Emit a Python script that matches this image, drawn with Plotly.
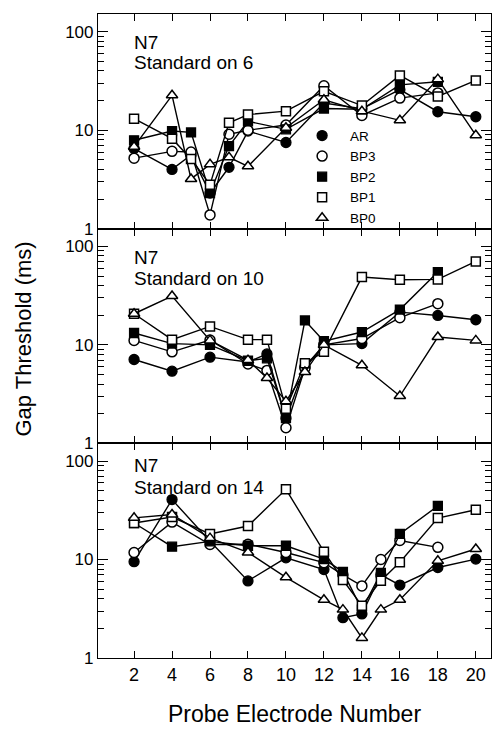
import plotly.graph_objects as go
from plotly.subplots import make_subplots

series_names = ["AR", "BP3", "BP2", "BP1", "BP0"]

x_std6 = [2, 4, 5, 6, 7, 8, 10, 12, 14, 16, 18, 20]
std6_AR = [6.5, 4.0, 5.6, 2.3, 4.2, 9.8, 7.5, 18.9, 16.5, 25.8, 15.4, 13.7]
std6_BP3 = [5.2, 6.1, 6.0, 1.38, 9.1, 10.0, 11.3, 28.3, 14.1, 21.2, 23.9, None]
std6_BP2 = [7.9, 9.8, 9.5, 2.3, 6.9, 12.3, 10.2, 16.6, 16.3, 28.9, 31, None]
std6_BP1 = [13.1, 8.2, 5.1, 2.8, 11.9, 14.4, 15.6, 24.8, 17.8, 36, 22, 32]
std6_BP0 = [6.8, 22.6, 3.2, 4.5, 5.3, 4.3, 10.6, 20.4, 15.6, 12.6, 33, 8.9]

x_std10 = [2, 4, 6, 8, 9, 10, 11, 12, 14, 16, 18, 20]
std10_AR = [7.1, 5.4, 7.5, 6.7, 8.1, 1.8, 6.0, 10.0, 10.3, 21.5, 19.9, 18.0]
std10_BP3 = [11.1, 8.5, 11.2, 6.4, 5.5, 1.44, 5.8, 10.0, 11.6, 18.9, 26.2, None]
std10_BP2 = [13.2, 10.3, 10.0, 6.9, 7.3, 1.8, 17.7, 10.9, 13.5, 22.8, 54.8, None]
std10_BP1 = [20.7, 11.3, 15.4, 11.3, 11.3, 2.25, 6.5, 8.5, 48.8, 45.8, 46.2, 70.4]
std10_BP0 = [20.7, 31.3, 11.1, 7.0, 4.6, 2.67, 5.3, 10.0, 6.2, 3.02, 12.0, 11.1]

x_std14 = [2, 4, 6, 8, 10, 12, 13, 14, 15, 16, 18, 20]
std14_AR = [9.5, 40.6, 15.3, 6.07, 10.4, 7.9, 2.57, 2.8, 7.0, 5.5, 8.3, 10.1]
std14_BP3 = [11.8, 24.0, 14.2, 14.3, 11.8, 9.3, 7.0, 5.4, 10.0, 15.6, 13.3, None]
std14_BP2 = [23.5, 13.5, 15.3, 13.8, 13.8, 10.1, 7.5, 3.1, 7.3, 18.2, 35, None]
std14_BP1 = [23.5, 27, 18.2, 21.9, 51.7, 12.0, 6.2, 3.4, 6.1, 9.4, 26.4, 32]
std14_BP0 = [26.5, 28.7, 16.5, 11.8, 6.6, 3.9, 3.1, 1.6, 3.1, 3.9, 9.7, 12.8]

panel_subject = "N7"
panel_standard = ["Standard on 6", "Standard on 10", "Standard on 14"]
x_ticks = [2, 4, 6, 8, 10, 12, 14, 16, 18, 20]

panels = [
    (x_std6, [std6_AR, std6_BP3, std6_BP2, std6_BP1, std6_BP0]),
    (x_std10, [std10_AR, std10_BP3, std10_BP2, std10_BP1, std10_BP0]),
    (x_std14, [std14_AR, std14_BP3, std14_BP2, std14_BP1, std14_BP0]),
]

marker_styles = {
    "AR": dict(symbol="circle", color="black", size=10, line=dict(color="black", width=1.3)),
    "BP3": dict(symbol="circle", color="white", size=10, line=dict(color="black", width=1.5)),
    "BP2": dict(symbol="square", color="black", size=9, line=dict(color="black", width=1.3)),
    "BP1": dict(symbol="square", color="white", size=9, line=dict(color="black", width=1.5)),
    "BP0": dict(symbol="triangle-up", color="white", size=10, line=dict(color="black", width=1.5)),
}

FONT = "Liberation Sans, Arial, Helvetica, sans-serif"

fig = make_subplots(rows=3, cols=1, shared_xaxes=True, vertical_spacing=0)

for r, (xs, ys_list) in enumerate(panels, start=1):
    for name, ys in zip(series_names, ys_list):
        fig.add_trace(go.Scatter(
            x=xs, y=ys, mode="lines+markers", name=name,
            line=dict(color="black", width=1.4),
            marker=marker_styles[name],
            connectgaps=False, showlegend=False,
        ), row=r, col=1)

for name in series_names:
    fig.add_trace(go.Scatter(
        x=[None], y=[None], mode="markers", name=name,
        marker=marker_styles[name], showlegend=True,
    ), row=1, col=1)

for r in range(1, 4):
    fig.update_xaxes(
        range=[0.1, 20.8], tickvals=x_ticks, ticks="inside", ticklen=7,
        tickwidth=1.3, tickcolor="black", showline=True, linecolor="black",
        linewidth=1.2, mirror="allticks", showgrid=False, zeroline=False,
        showticklabels=(r == 3), tickfont=dict(family=FONT, size=18, color="black"),
        automargin=False, row=r, col=1,
    )
    fig.update_yaxes(
        type="log", range=[0, 2.18], tickvals=[1, 10, 100], ticktext=["1", "10", "100"],
        ticks="inside", ticklen=10, tickwidth=1.3, tickcolor="black",
        minor=dict(ticks="inside", ticklen=6, tickwidth=1.1, tickcolor="black",
                   tickvals=[2, 3, 4, 5, 6, 7, 8, 9, 20, 30, 40, 50, 60, 70, 80, 90]),
        showline=True, linecolor="black", linewidth=1.2, mirror="allticks",
        showgrid=False, zeroline=False, automargin=False,
        tickfont=dict(family=FONT, size=17, color="black"),
        row=r, col=1,
    )

fig.update_xaxes(title=dict(text="Probe Electrode Number", font=dict(family=FONT, size=23, color="black"),
                            standoff=22), row=3, col=1)

yrefs = ["y domain", "y2 domain", "y3 domain"]
xrefs = ["x domain", "x2 domain", "x3 domain"]
subject_y = [0.865, 0.868, 0.899]
standard_y = [0.776, 0.770, 0.796]
for i in range(3):
    fig.add_annotation(text=panel_subject, xref=xrefs[i], yref=yrefs[i], x=0.087, y=subject_y[i],
                       xanchor="left", yanchor="middle", align="left", showarrow=False,
                       font=dict(family=FONT, size=19, color="black"))
    fig.add_annotation(text=panel_standard[i], xref=xrefs[i], yref=yrefs[i], x=0.087, y=standard_y[i],
                       xanchor="left", yanchor="middle", align="left", showarrow=False,
                       font=dict(family=FONT, size=19, color="black"))

fig.add_annotation(text="Gap Threshold (ms)", xref="paper", yref="paper", x=-0.19, y=0.495,
                   xanchor="center", yanchor="middle", textangle=-90, showarrow=False,
                   font=dict(family=FONT, size=22, color="black"))

fig.update_layout(
    width=493, height=730,
    margin=dict(l=98, r=2, t=14, b=72),
    paper_bgcolor="white", plot_bgcolor="white",
    showlegend=True,
    legend=dict(x=0.499, y=0.835, xanchor="left", yanchor="top",
                font=dict(family=FONT, size=13.5, color="black"),
                bgcolor="rgba(0,0,0,0)", itemwidth=46, tracegroupgap=0),
    font=dict(family=FONT, color="black"),
)

fig.write_html("out.html", post_script="document.body.style.margin='0';",
               config={"displayModeBar": False})
